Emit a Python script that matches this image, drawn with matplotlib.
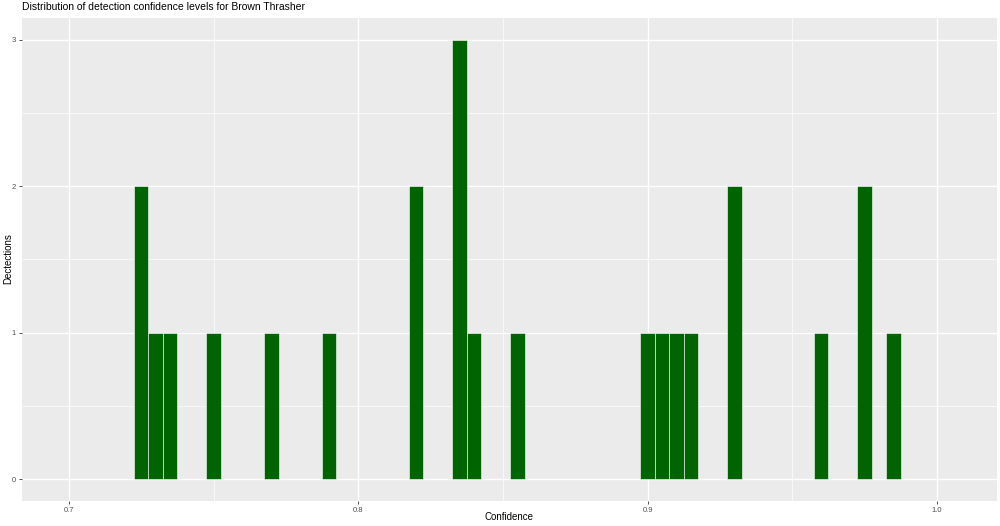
import matplotlib
matplotlib.use("Agg")
import matplotlib.pyplot as plt
from matplotlib.ticker import MultipleLocator

plt.rcParams['font.family'] = ['Liberation Sans', 'DejaVu Sans']

bin_centers = [0.725, 0.730, 0.735, 0.750, 0.770, 0.790, 0.820, 0.835, 0.840,
               0.855, 0.900, 0.905, 0.910, 0.915, 0.930, 0.960, 0.975, 0.985]
counts = [2, 1, 1, 1, 1, 1, 2, 3, 1, 1, 1, 1, 1, 1, 2, 1, 2, 1]
bin_width = 0.005
x_ticks = [0.7, 0.8, 0.9, 1.0]
x_tick_labels = ["0.7", "0.8", "0.9", "1.0"]
y_ticks = [0, 1, 2, 3]

W, H = 1000, 526
fig = plt.figure(figsize=(10, 5.26), dpi=100)
ax = fig.add_axes([22 / W, 1 - 501 / H, (997 - 22) / W, (501 - 18) / H])
ax.set_facecolor('#EBEBEB')
for s in ax.spines.values():
    s.set_visible(False)

ax.bar(bin_centers, counts, width=bin_width, color='#006400',
       edgecolor='white', linewidth=0.4, zorder=3)

ax.set_xlim(0.6838, 1.0208)
ax.set_ylim(-0.15, 3.15)
ax.set_xticks(x_ticks)
ax.set_xticklabels(x_tick_labels)
ax.set_yticks(y_ticks)
ax.xaxis.set_minor_locator(MultipleLocator(0.05))
ax.yaxis.set_minor_locator(MultipleLocator(0.5))
ax.grid(which='major', color='white', linewidth=1.0, zorder=0)
ax.grid(which='minor', color='white', linewidth=0.5, zorder=0)
ax.set_axisbelow(True)
ax.tick_params(which='major', length=2.5, width=0.6, color='#333333',
               labelsize=5.5, labelcolor='#4D4D4D', pad=2)
ax.tick_params(which='minor', length=0)

fig.text((22 + 997) / 2 / W, 1 - 517 / H, 'Confidence', fontsize=7,
         ha='center', va='center')
fig.text(8 / W, 1 - 259 / H, 'Dectections', fontsize=7, rotation=90,
         ha='center', va='center')
fig.text(22 / W, 1 - 7 / H,
         'Distribution of detection confidence levels for Brown Thrasher',
         fontsize=7.5, ha='left', va='center')

fig.savefig('out.png', dpi=100)
